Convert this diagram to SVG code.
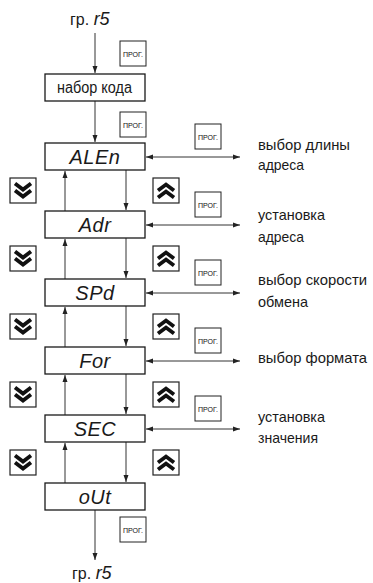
<svg xmlns="http://www.w3.org/2000/svg" width="373" height="583" viewBox="0 0 373 583">
<style>
.bx{fill:#fff;stroke:#1a1a1a;stroke-width:1.3}
.pb{fill:#fff;stroke:#222;stroke-width:1}
.pt{font-family:"Liberation Sans",Arial,sans-serif;font-size:7.5px;fill:#111}
.cb{fill:#fff;stroke:#222;stroke-width:1.2}
.cv{fill:none;stroke:#111;stroke-width:3.8;stroke-linejoin:miter}
.ln{fill:none;stroke:#333;stroke-width:1}
.seg{font-family:"Liberation Sans",Arial,sans-serif;font-style:italic;font-size:20px;fill:#1a1a1a;text-anchor:middle;letter-spacing:0.5px}
.tx{font-family:"Liberation Sans",Arial,sans-serif;font-size:16px;fill:#1a1a1a}
.cp{font-family:"Liberation Sans",Arial,sans-serif;font-size:15px;fill:#1a1a1a}
</style>
<defs>
<marker id="ah" markerUnits="userSpaceOnUse" markerWidth="8" markerHeight="6" refX="7" refY="3" orient="auto-start-reverse">
<path d="M0,0.5 L7,3 L0,5.5 Z" fill="#222"/>
</marker>
<g id="prog"><rect class="pb" x="0" y="0" width="26" height="25"/><text class="pt" x="3" y="16" textLength="20" lengthAdjust="spacingAndGlyphs">ПРОГ.</text></g>
<g id="dn"><rect class="cb" x="0" y="0" width="26" height="25"/><polyline class="cv" points="5,5.5 13,11.5 21,5.5"/><polyline class="cv" points="5,12.5 13,18.5 21,12.5"/></g>
<g id="up"><rect class="cb" x="0" y="0" width="26" height="25"/><polyline class="cv" points="5,12.5 13,6.5 21,12.5"/><polyline class="cv" points="5,19.5 13,13.5 21,19.5"/></g>
</defs>

<g id="connectors">
<path class="ln" d="M95,33 V73" marker-end="url(#ah)"/>
<path class="ln" d="M95,101 V142" marker-end="url(#ah)"/>
<path class="ln" d="M126,170 V210" marker-end="url(#ah)"/>
<path class="ln" d="M126,238 V278" marker-end="url(#ah)"/>
<path class="ln" d="M126,306 V346" marker-end="url(#ah)"/>
<path class="ln" d="M126,374 V414" marker-end="url(#ah)"/>
<path class="ln" d="M126,442 V482" marker-end="url(#ah)"/>
<path class="ln" d="M65,211 V171" marker-end="url(#ah)"/>
<path class="ln" d="M65,279 V239" marker-end="url(#ah)"/>
<path class="ln" d="M65,347 V307" marker-end="url(#ah)"/>
<path class="ln" d="M65,415 V375" marker-end="url(#ah)"/>
<path class="ln" d="M65,483 V443" marker-end="url(#ah)"/>
<path class="ln" d="M95,510 V560" marker-end="url(#ah)"/>
<path class="ln" d="M146,157 H240" marker-start="url(#ah)" marker-end="url(#ah)"/>
<path class="ln" d="M146,225 H240" marker-start="url(#ah)" marker-end="url(#ah)"/>
<path class="ln" d="M146,293 H240" marker-start="url(#ah)" marker-end="url(#ah)"/>
<path class="ln" d="M146,361 H240" marker-start="url(#ah)" marker-end="url(#ah)"/>
<path class="ln" d="M146,429 H240" marker-start="url(#ah)" marker-end="url(#ah)"/>
</g>

<g id="top-label"><text class="tx" x="70" y="25">гр. <tspan font-style="italic" font-size="18">r5</tspan></text></g>
<g id="bottom-label"><text class="tx" x="72" y="579">гр. <tspan font-style="italic" font-size="18">r5</tspan></text></g>

<g id="n-code"><rect class="bx" x="45" y="74" width="100" height="27"/><text class="tx" x="57" y="93" textLength="75" lengthAdjust="spacingAndGlyphs">набор кода</text></g>
<g id="n-ALEn"><rect class="bx" x="45" y="143" width="100" height="27"/><text class="seg" x="95" y="164">ALEn</text></g>
<g id="n-Adr"><rect class="bx" x="45" y="211" width="100" height="27"/><text class="seg" x="95" y="232">Adr</text></g>
<g id="n-SPd"><rect class="bx" x="45" y="279" width="100" height="27"/><text class="seg" x="95" y="300">SPd</text></g>
<g id="n-For"><rect class="bx" x="45" y="347" width="100" height="27"/><text class="seg" x="95" y="368">For</text></g>
<g id="n-SEC"><rect class="bx" x="45" y="415" width="100" height="27"/><text class="seg" x="95" y="436">SEC</text></g>
<g id="n-oUt"><rect class="bx" x="45" y="483" width="100" height="27"/><text class="seg" x="95" y="504">oUt</text></g>

<g id="prog-buttons">
<use href="#prog" x="120" y="41"/>
<use href="#prog" x="120" y="112"/>
<use href="#prog" x="120" y="517"/>
<use href="#prog" x="195" y="124"/>
<use href="#prog" x="195" y="192"/>
<use href="#prog" x="195" y="260"/>
<use href="#prog" x="195" y="328"/>
<use href="#prog" x="195" y="396"/>
</g>

<g id="nav-buttons">
<use href="#dn" x="10" y="178"/>
<use href="#dn" x="10" y="246"/>
<use href="#dn" x="10" y="314"/>
<use href="#dn" x="10" y="382"/>
<use href="#dn" x="10" y="450"/>
<use href="#up" x="153" y="178"/>
<use href="#up" x="153" y="246"/>
<use href="#up" x="153" y="314"/>
<use href="#up" x="153" y="382"/>
<use href="#up" x="153" y="450"/>
</g>

<g id="captions">
<text class="cp" x="258" y="150" textLength="92" lengthAdjust="spacingAndGlyphs">выбор длины</text>
<text class="cp" x="258" y="170" textLength="46" lengthAdjust="spacingAndGlyphs">адреса</text>
<text class="cp" x="258" y="220" textLength="67" lengthAdjust="spacingAndGlyphs">установка</text>
<text class="cp" x="258" y="242" textLength="46" lengthAdjust="spacingAndGlyphs">адреса</text>
<text class="cp" x="258" y="285" textLength="109" lengthAdjust="spacingAndGlyphs">выбор скорости</text>
<text class="cp" x="258" y="307" textLength="50" lengthAdjust="spacingAndGlyphs">обмена</text>
<text class="cp" x="258" y="363" textLength="109" lengthAdjust="spacingAndGlyphs">выбор формата</text>
<text class="cp" x="258" y="422" textLength="67" lengthAdjust="spacingAndGlyphs">установка</text>
<text class="cp" x="258" y="443" textLength="60" lengthAdjust="spacingAndGlyphs">значения</text>
</g>
</svg>
